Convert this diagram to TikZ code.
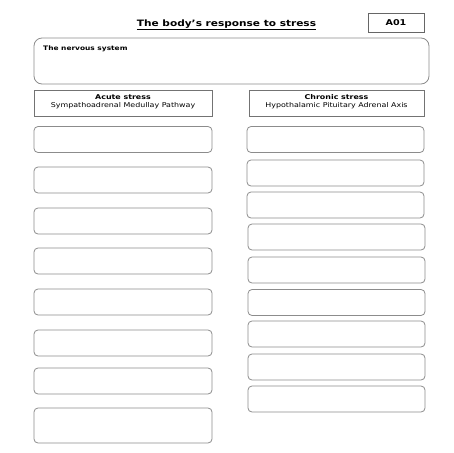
\documentclass[tikz,border=0pt]{standalone}
\usepackage{fontspec}
\setmainfont[FakeStretch=1.2]{DejaVu Sans}
\begin{document}
\begin{tikzpicture}[x=1pt,y=-1pt,
  ansbox/.style={draw=black!45, line width=0.8pt, rounded corners=4pt, inner sep=0pt},
  headbox/.style={draw=black!55, line width=0.8pt, inner sep=0pt, minimum height=26pt},
  headtext/.style={inner sep=0pt, align=center, font=\fontsize{6.6}{8.4}\selectfont},
  lbox/.style={ansbox, minimum width=178pt, minimum height=26pt},
  rbox/.style={ansbox, minimum width=177pt, minimum height=26pt}]
\useasboundingbox (0,0) rectangle (453,453);
\node[font=\fontsize{8.8}{10}\bfseries\selectfont, inner sep=0pt] (title) at (226.5,25) {\underline{The body's response to stress}};
\node[draw=black!60, line width=0.8pt, minimum width=56pt, minimum height=19pt, inner sep=0pt, font=\fontsize{8}{9}\bfseries\selectfont] (ao) at (396,22.5) {A01};
\node[ansbox, rounded corners=8pt, minimum width=395pt, minimum height=46pt] (nerv) at (231.5,61) {};
\node[anchor=north west, inner sep=0pt, font=\fontsize{6.2}{7}\bfseries\selectfont] (nervt) at (43,45.5) {The nervous system};
\node[headbox, minimum width=178pt] (acute) at (123,103) {};
\node[headtext] (acutet) at (123,101.5) {\textbf{Acute stress}\\Sympathoadrenal Medullay Pathway};
\node[headbox, minimum width=175pt] (chronic) at (336.5,103) {};
\node[headtext] (chronict) at (336.5,101.5) {\textbf{Chronic stress}\\Hypothalamic Pituitary Adrenal Axis};
% left column
\node[lbox] (l1) at (123,139.5) {};
\node[lbox] (l2) at (123,180) {};
\node[lbox] (l3) at (123,221) {};
\node[lbox] (l4) at (123,261) {};
\node[lbox] (l5) at (123,302) {};
\node[lbox] (l6) at (123,343) {};
\node[lbox] (l7) at (123,381) {};
\node[lbox, minimum height=35pt] (l8) at (123,425.5) {};
% right column
\node[rbox] (r1) at (335.5,139.5) {};
\node[rbox] (r2) at (335.5,173) {};
\node[rbox] (r3) at (335.5,205) {};
\node[rbox] (r4) at (336.5,237) {};
\node[rbox] (r5) at (336.5,270) {};
\node[rbox] (r6) at (336.5,302.5) {};
\node[rbox] (r7) at (336.5,334) {};
\node[rbox] (r8) at (336.5,367) {};
\node[rbox] (r9) at (336.5,399) {};
\end{tikzpicture}
\end{document}
